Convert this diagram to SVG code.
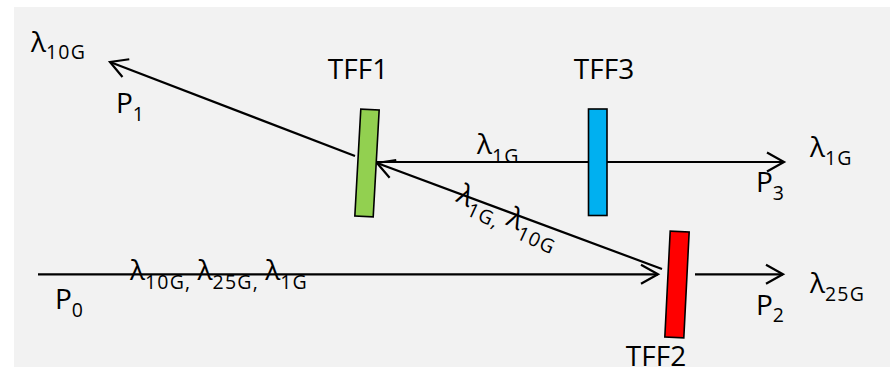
<svg xmlns="http://www.w3.org/2000/svg" width="890" height="367" viewBox="0 0 890 367">
<style>
text{font-family:"Open Sans","Noto Sans","Liberation Sans",sans-serif;fill:#000;font-size:28px}
.sub{font-size:19.5px;letter-spacing:1.2px}
.conn line{stroke:#000;stroke-width:2.2;fill:none}
.filt{stroke:#000;stroke-width:1.6}
</style>
<defs>
<marker id="arr" markerUnits="userSpaceOnUse" markerWidth="30" markerHeight="30" refX="20" refY="12" orient="auto" overflow="visible">
<path d="M3,2.5 L20,12 L3,21.5" fill="none" stroke="#000" stroke-width="2.2"/>
</marker>
</defs>
<rect x="14" y="7" width="876" height="360" fill="#f2f2f2"/>
<g id="connectors" class="conn">
<line x1="355" y1="156" x2="110" y2="62" marker-end="url(#arr)"/>
<line x1="377" y1="162" x2="784" y2="162" marker-end="url(#arr)"/>
<line x1="662" y1="269" x2="377" y2="163" marker-end="url(#arr)"/>
<line x1="38" y1="274.3" x2="658" y2="274.3" marker-end="url(#arr)"/>
<line x1="695" y1="274.3" x2="783" y2="274.3" marker-end="url(#arr)"/>
</g>
<g id="TFF1">
<rect class="filt" x="-9.2" y="-53.5" width="18.4" height="107" fill="#92d050" transform="translate(367,163) rotate(3.2)"/>
<text x="358" y="79" text-anchor="middle">TFF1</text>
</g>
<g id="TFF3">
<rect class="filt" x="588.5" y="109" width="18.5" height="106.5" fill="#00b0f0"/>
<text x="604" y="79" text-anchor="middle">TFF3</text>
</g>
<g id="TFF2">
<rect class="filt" x="-9.5" y="-53" width="19" height="106" fill="#ff0000" transform="translate(677,284.5) rotate(2.9)"/>
<text x="656" y="366" text-anchor="middle">TFF2</text>
</g>
<g id="labels">
<text x="31" y="52">λ<tspan class="sub" dy="7">10G</tspan></text>
<text x="116" y="113">P<tspan class="sub" dy="8">1</tspan></text>
<text x="477" y="154">λ<tspan class="sub" dy="9">1G</tspan></text>
<text x="810" y="157">λ<tspan class="sub" dy="8">1G</tspan></text>
<text x="756" y="192">P<tspan class="sub" dy="8">3</tspan></text>
<text x="130" y="279.5">λ<tspan class="sub" dy="9">10G, </tspan><tspan dy="-9">λ</tspan><tspan class="sub" dy="9">25G, </tspan><tspan dy="-9">λ</tspan><tspan class="sub" dy="9">1G</tspan></text>
<text x="55" y="309">P<tspan class="sub" dy="8">0</tspan></text>
<text x="810" y="293">λ<tspan class="sub" dy="7.5">25G</tspan></text>
<text x="756" y="315">P<tspan class="sub" dy="7">2</tspan></text>
<text transform="translate(455,201) rotate(25)">λ<tspan class="sub" dy="8">1G, </tspan><tspan dy="-8">λ</tspan><tspan class="sub" dy="8">10G</tspan></text>
</g>
</svg>
